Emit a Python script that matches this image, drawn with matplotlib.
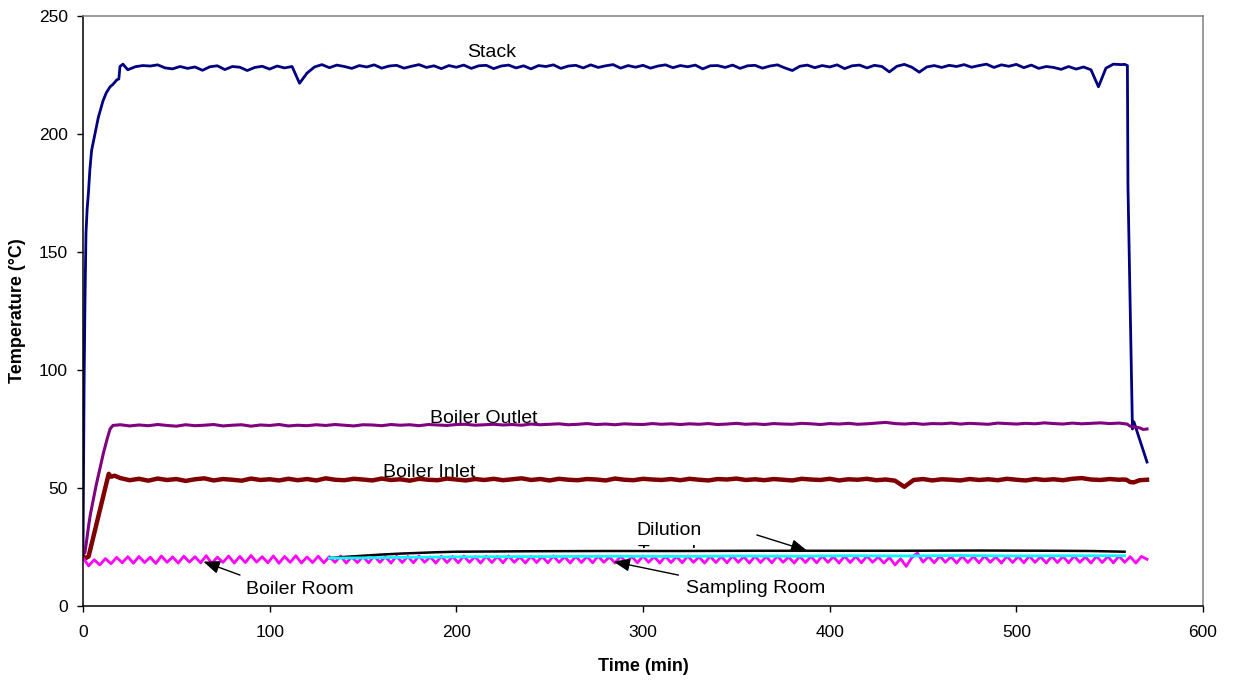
import numpy as np
import matplotlib
matplotlib.use('Agg')
import matplotlib.pyplot as plt
from matplotlib.transforms import Bbox, TransformedBbox

plt.rcParams['font.family'] = ['Liberation Sans', 'DejaVu Sans']

# Stack temperature: start-up, steady logging every 4 min, shutdown
stack_rise_t = [0, 0.3, 0.6, 1.07, 1.6, 2.2, 2.9, 3.7, 4.6, 6.4, 8.2, 10.7,
                12.5, 14.5, 16, 18.2, 19.2, 19.8, 21.4]
stack_rise_v = [22, 60, 95, 130, 158, 168, 175, 185, 193, 200, 207, 214,
                217.5, 220, 221, 223, 223.3, 228.6, 229.6]
stack_t = np.arange(24, 557, 4)
stack_v = [
    227.2, 228.5, 229.0, 228.8, 229.3, 228.0, 227.6, 228.6, 227.8, 228.4,
    227.0, 228.5, 228.9, 227.3, 228.6, 228.3, 226.9, 228.2, 228.7, 227.5,
    228.8, 228.0, 228.6, 221.5, 225.8, 228.4, 229.4, 228.1, 229.2, 228.6,
    227.8, 229.0, 228.4, 229.3, 227.9, 228.8, 229.1, 227.9, 228.7, 229.4,
    228.2, 228.9, 227.7, 229.0, 228.3, 229.2, 227.8, 228.9, 229.1, 227.7,
    228.8, 229.2, 228.0, 228.9, 227.6, 229.0, 228.6, 229.3, 227.8, 228.8,
    229.1, 228.0, 229.3, 228.2, 228.9, 229.4, 227.9, 229.0, 228.3, 229.1,
    227.9, 228.8, 229.3, 228.1, 229.0, 228.5, 229.2, 227.6, 228.9, 229.0,
    228.2, 229.2, 227.8, 228.9, 229.1, 227.9, 228.8, 229.3, 228.0, 226.9,
    228.7, 229.2, 228.1, 229.0, 228.4, 229.3, 227.7, 228.9, 229.2, 228.0,
    229.1, 228.6, 226.3, 228.7, 229.5, 228.3, 226.2, 228.4, 229.0, 228.2,
    229.1, 228.6, 229.4, 228.3, 229.0, 229.6, 228.2, 229.3, 228.7, 229.5,
    228.1, 229.2, 227.8, 228.6, 228.2, 227.4, 228.6, 227.5, 228.4, 227.2,
    220.0, 227.9, 229.6, 229.4,
]
stack_end_t = [558, 559.5, 559.8, 562.2, 563, 570]
stack_end_v = [229.5, 229.0, 178, 75, 78, 61]

# Boiler outlet
outlet_rise_t = [0, 1, 2, 3, 4, 5.5, 7, 9, 11, 13, 14.5, 16]
outlet_rise_v = [22, 22.5, 28, 34, 39, 45, 51, 58, 65, 71, 75, 76.5]
outlet_t = np.arange(20, 556, 5)
outlet_v = [
    76.8, 76.3, 76.7, 76.4, 76.9, 76.5, 76.2, 76.8, 76.4, 76.6,
    76.9, 76.3, 76.6, 76.8, 76.2, 76.7, 76.5, 76.9, 76.3, 76.6,
    76.4, 76.8, 76.5, 76.9, 76.6, 76.3, 76.8, 76.7, 76.4, 76.9,
    76.6, 76.8, 76.4, 76.9, 76.7, 76.5, 76.9, 77.0, 76.6, 76.8,
    77.0, 76.7, 76.9, 76.6, 77.1, 76.8, 77.0, 77.2, 76.8, 77.0,
    77.3, 76.9, 77.1, 76.8, 77.2, 77.0, 76.9, 77.3, 77.0, 77.2,
    76.9, 77.2, 77.0, 77.3, 76.9, 77.1, 77.4, 77.0, 77.2, 76.9,
    77.3, 77.1, 77.0, 77.4, 77.2, 76.9, 77.3, 77.1, 77.4, 77.0,
    77.2, 77.5, 77.8, 77.3, 77.1, 77.4, 77.0, 77.3, 77.2, 77.5,
    77.1, 77.4, 77.2, 77.0, 77.5, 77.3, 77.1, 77.4, 77.2, 77.6,
    77.3, 77.1, 77.5, 77.2, 77.4, 77.6, 77.3, 77.5,
]
outlet_end_t = [559.3, 561, 563, 566, 568, 570]
outlet_end_v = [77.1, 76.2, 75.9, 75.5, 74.8, 75.0]

# Boiler inlet
inlet_rise_t = [0, 1.5, 3, 5, 7, 9, 11, 13, 13.8, 15, 17]
inlet_rise_v = [21, 20.3, 21, 27.5, 34, 40.5, 47, 53.5, 56, 54.8, 55.2]
inlet_t = np.arange(20, 556, 5)
inlet_v = [
    54.2, 53.3, 53.9, 53.1, 54.0, 53.4, 53.8, 53.0, 53.7, 54.1,
    53.2, 53.8, 53.5, 53.1, 54.0, 53.4, 53.7, 53.2, 53.9, 53.3,
    53.8, 53.2, 54.1, 53.5, 53.3, 53.9, 53.6, 53.2, 54.0, 53.4,
    53.7, 53.1, 53.9, 53.5, 53.3, 54.0, 53.6, 53.2, 53.8, 53.4,
    53.9, 53.3, 53.7, 54.1, 53.4, 53.8, 53.2, 53.9, 53.5, 53.3,
    53.8, 53.6, 53.2, 54.0, 53.5, 53.3, 53.9, 53.6, 53.4, 53.8,
    53.3, 53.9, 53.5, 53.2, 53.8, 53.6, 54.0, 53.4, 53.7, 53.3,
    53.8, 53.5, 53.2, 53.9, 53.6, 53.4, 53.9, 53.2, 53.7, 53.5,
    53.9, 53.3, 53.6, 53.1, 50.5, 53.4, 53.8, 53.2, 53.7, 53.5,
    53.2, 53.8, 53.4, 53.7, 53.3, 53.9, 53.5, 53.2, 53.8, 53.4,
    53.7, 53.3, 53.9, 54.2, 53.6, 53.4, 53.8, 53.5,
]
inlet_end_t = [557, 559, 561, 563, 566, 570]
inlet_end_v = [53.6, 53.5, 52.5, 52.4, 53.3, 53.5]

# Boiler room, logged every 3 min
room_t = np.arange(0, 571, 3)
room_v = [
    20.5, 17.0, 19.6, 17.4, 20.1, 17.9, 20.6, 18.3, 20.9, 18.1,
    21.0, 18.4, 20.7, 18.0, 21.2, 18.5, 20.8, 18.2, 21.1, 18.6,
    20.9, 18.3, 21.3, 18.1, 20.7, 18.5, 21.2, 18.2, 21.0, 18.4,
    21.4, 18.6, 20.9, 18.3, 21.2, 18.1, 21.0, 18.5, 21.3, 18.2,
    20.8, 18.4, 21.1, 18.3, 20.9, 18.5, 21.2, 18.2, 20.8, 18.4,
    21.0, 18.3, 21.2, 18.5, 20.9, 18.2, 21.1, 18.4, 21.0, 18.3,
    21.2, 18.5, 20.8, 18.2, 21.1, 18.4, 21.0, 18.3, 21.2, 18.5,
    20.9, 18.2, 21.1, 18.4, 21.0, 18.3, 21.2, 18.5, 20.8, 18.2,
    21.1, 18.4, 21.0, 18.3, 21.2, 18.5, 20.9, 18.2, 21.1, 18.4,
    21.0, 18.3, 21.2, 18.5, 20.8, 18.2, 21.1, 18.4, 21.0, 18.3,
    21.2, 18.5, 20.9, 18.2, 21.1, 18.4, 21.0, 18.3, 21.2, 18.5,
    20.8, 18.2, 21.1, 18.4, 21.0, 18.3, 21.2, 18.5, 20.9, 18.2,
    21.1, 18.4, 21.0, 18.3, 21.2, 18.5, 20.8, 18.2, 21.1, 18.4,
    21.0, 18.3, 21.2, 18.5, 20.9, 18.2, 21.1, 18.4, 21.0, 18.3,
    21.2, 18.5, 20.8, 18.2, 20.6, 17.4, 20.0, 16.8, 20.5, 22.5,
    18.6, 21.0, 18.3, 21.2, 18.5, 20.9, 18.2, 21.1, 18.4, 21.0,
    18.3, 21.2, 18.5, 20.8, 18.2, 21.1, 18.4, 21.0, 18.3, 21.2,
    18.5, 20.9, 18.2, 21.1, 18.4, 21.0, 18.3, 21.2, 18.5, 20.8,
    18.2, 21.1, 18.4, 21.0, 18.3, 21.2, 18.5, 20.9, 18.2, 21.0,
    19.8,
]

# Sampling room and dilution tunnel, logged from 132 min
sampling_t = [132, 150, 170, 200, 230, 260, 290, 320, 350, 380, 410, 440,
              470, 500, 530, 558]
sampling_v = [20.3, 20.4, 20.6, 20.8, 20.9, 21.0, 21.1, 21.0, 21.2, 21.1,
              21.3, 21.2, 21.4, 21.2, 21.3, 21.3]
dilution_t = [132, 140, 150, 160, 170, 180, 190, 200, 220, 240, 280, 320,
              360, 400, 440, 480, 520, 540, 558]
dilution_v = [20.3, 20.8, 21.3, 21.8, 22.2, 22.5, 22.8, 23.0, 23.1, 23.2,
              23.3, 23.3, 23.4, 23.4, 23.4, 23.5, 23.4, 23.3, 23.0]

fig = plt.figure(figsize=(12.33, 6.85), dpi=100)
ax = fig.add_axes([83 / 1233, 1 - 606 / 685, 1120 / 1233, 590 / 685])

ax.plot(np.concatenate([stack_rise_t, stack_t, stack_end_t]),
        np.concatenate([stack_rise_v, stack_v, stack_end_v]),
        color='#000080', lw=2.0)
ax.plot(np.concatenate([outlet_rise_t, outlet_t, outlet_end_t]),
        np.concatenate([outlet_rise_v, outlet_v, outlet_end_v]),
        color='#800080', lw=2.2)
ax.plot(np.concatenate([inlet_rise_t, inlet_t, inlet_end_t]),
        np.concatenate([inlet_rise_v, inlet_v, inlet_end_v]),
        color='#800000', lw=3.2)
ax.plot(room_t, room_v, color='#FF00FF', lw=2.0)
ax.plot(dilution_t, dilution_v, color='black', lw=1.8)
ax.plot(sampling_t, sampling_v, color='#00FFFF', lw=2.0)

ax.set_xlim(0, 600)
ax.set_ylim(0, 250)
ax.set_xticks(range(0, 601, 100))
ax.set_yticks(range(0, 251, 50))
ax.tick_params(direction='out', length=4.3, width=1, labelsize=12.5)
ax.tick_params(axis='x', pad=9.5)
ax.tick_params(axis='y', pad=6.5)
for side in ('top', 'right'):
    ax.spines[side].set_color('#808080')
for side in ('left', 'bottom'):
    ax.spines[side].set_color('black')
for sp in ax.spines.values():
    sp.set_linewidth(1.1)

ax.set_xlabel('Time (min)', fontsize=13, fontweight='bold')
ax.set_ylabel('Temperature (°C)', fontsize=13, fontweight='bold')
ax.xaxis.set_label_coords(0.5, -0.088)
ax.yaxis.set_label_coords(-0.051, 0.5)

lbl = dict(fontsize=14, ha='center', va='baseline')
ax.text(218.7, 232.8, 'Stack', **lbl)
ax.text(214.5, 77.7, 'Boiler Outlet', **lbl)
ax.text(185.5, 54.8, 'Boiler Inlet', **lbl)
ax.text(313.9, 30.1, 'Dilution', **lbl)
tunnel = ax.text(312.7, 20.3, 'Tunnel', **lbl)
tunnel.set_clip_box(TransformedBbox(Bbox([[0, 24.6], [600, 250]]), ax.transData))
tunnel.set_clip_on(True)
ax.text(116.3, 5.1, 'Boiler Room', **lbl)
ax.text(360.3, 5.6, 'Sampling Room', **lbl)

arrow = dict(arrowstyle='-|>,head_length=0.55,head_width=0.22', color='black',
             lw=1, mutation_scale=18, shrinkA=0, shrinkB=0)
ax.annotate('', xy=(388, 23.4), xytext=(361, 30.1), arrowprops=arrow)
ax.annotate('', xy=(64.5, 18.8), xytext=(84.1, 13.1), arrowprops=arrow)
ax.annotate('', xy=(284.2, 18.8), xytext=(319, 13.1), arrowprops=arrow)

fig.savefig('out.png', dpi=100)
